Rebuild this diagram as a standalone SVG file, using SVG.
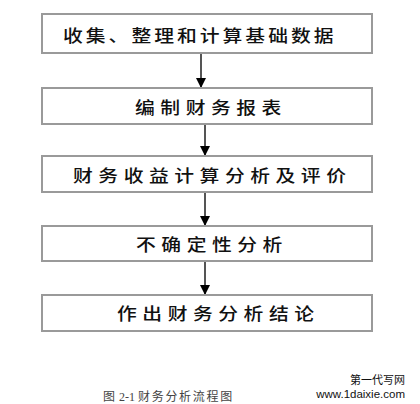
<svg xmlns="http://www.w3.org/2000/svg" width="420" height="404" viewBox="0 0 420 404">
<style>
.box{fill:#fff;stroke:#9a9a9a;stroke-width:2}
.lbl{font-family:"Noto Sans CJK SC","Noto Sans",sans-serif;font-size:16.5px;font-weight:500;fill:#111;letter-spacing:4.6px;dominant-baseline:central}
.ln{stroke:#555;stroke-width:2}
.cap{font-family:"Liberation Serif","Noto Sans CJK SC",serif;font-size:12px;fill:#444}
.wm{font-family:"Liberation Sans","Noto Sans CJK SC",sans-serif;font-size:11.5px;fill:#111;text-anchor:end}
</style>
<defs>
<marker id="ah" viewBox="0 0 10 10" refX="10" refY="5" markerWidth="5" markerHeight="5" orient="auto" markerUnits="strokeWidth">
<path d="M0,0 L10,5 L0,10 z" fill="#000"/>
</marker>
</defs>
<g id="connectors">
<line class="ln" x1="201" y1="53" x2="201" y2="88" marker-end="url(#ah)"/>
<line class="ln" x1="205" y1="124" x2="205" y2="156" marker-end="url(#ah)"/>
<line class="ln" x1="205" y1="192" x2="205" y2="226" marker-end="url(#ah)"/>
<line class="ln" x1="205" y1="261" x2="205" y2="295" marker-end="url(#ah)"/>
</g>
<g id="n1"><rect class="box" x="42" y="14" width="330" height="39"/><text class="lbl" transform="translate(63,35) scale(1.2,1)" style="letter-spacing:2.5px">收集、整理和计算基础数据</text></g>
<g id="n2"><rect class="box" x="42" y="88" width="330" height="36"/><text class="lbl" transform="translate(135,107) scale(1.2,1)">编制财务报表</text></g>
<g id="n3"><rect class="box" x="42" y="156" width="330" height="36"/><text class="lbl" transform="translate(73,175) scale(1.2,1)">财务收益计算分析及评价</text></g>
<g id="n4"><rect class="box" x="42" y="226" width="330" height="35"/><text class="lbl" transform="translate(136,244) scale(1.2,1)">不确定性分析</text></g>
<g id="n5"><rect class="box" x="42" y="295" width="330" height="36"/><text class="lbl" transform="translate(117,313) scale(1.2,1)">作出财务分析结论</text></g>
<text class="cap" y="401"><tspan x="103">图</tspan><tspan x="119">2-1</tspan><tspan x="138" style="letter-spacing:1.7px">财务分析流程图</tspan></text>
<text class="wm" x="405" y="384" style="font-size:11px">第一代写网</text>
<text class="wm" x="405" y="398">www.1daixie.com</text>
</svg>
